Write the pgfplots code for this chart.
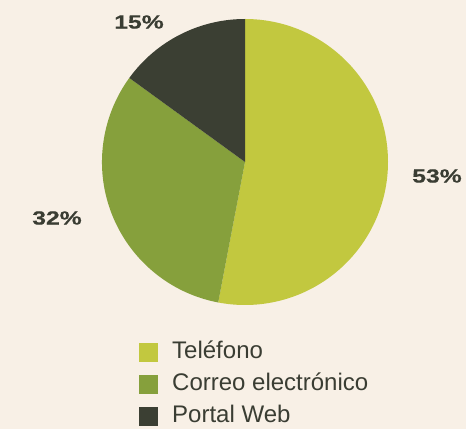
\documentclass[border=0pt]{standalone}
\usepackage{pgfplots}
\pgfplotsset{compat=1.18}
\usepackage{pgfplotstable}
\usepackage{fontspec}
\setmainfont{Liberation Sans}
\newfontfamily\labelfont[FakeStretch=1.3,FakeBold=0.6]{Liberation Sans Bold}
\definecolor{telefono}{HTML}{C2C83F}
\definecolor{correo}{HTML}{86A03C}
\definecolor{portal}{HTML}{3B3F33}
\definecolor{bg}{HTML}{F8F0E6}
\definecolor{txt}{HTML}{3A3D33}

\pgfplotstableread{
value col
53 telefono
32 correo
15 portal
}\piedata

\begin{document}
\begin{tikzpicture}
\fill[bg] (0,0) rectangle (466pt,429pt);
\begin{axis}[
  at={(0,0)}, anchor=south west,
  width=466pt, height=429pt, scale only axis,
  xmin=0, xmax=466, ymin=0, ymax=429,
  hide axis, clip=false,
  legend style={at={(axis cs:136,91)}, anchor=north west, draw=none, fill=none,
    font=\fontsize{24}{27}\selectfont\color{txt}, row sep=7pt,
    nodes={text height=16pt, text depth=5pt},
    /tikz/every odd column/.append style={column sep=12pt}},
  legend cell align=left,
  legend image code/.code={\fill[#1] (0pt,-9.5pt) rectangle (19pt,9.5pt);},
]
\xdef\angstart{90}
\pgfplotstablegetrowsof{\piedata}
\pgfmathtruncatemacro\nrows{\pgfplotsretval-1}
\foreach \i in {0,...,\nrows}{
  \pgfplotstablegetelem{\i}{value}\of\piedata \let\v\pgfplotsretval
  \pgfplotstablegetelem{\i}{col}\of\piedata \let\c\pgfplotsretval
  \pgfmathsetmacro\angend{\angstart-\v*3.6}
  \edef\temp{\noexpand\fill[\c] (axis cs:245,267) -- ++(\angstart:143pt) arc[start angle=\angstart, end angle=\angend, radius=143pt] -- cycle;}
  \temp
  \xdef\angstart{\angend}
}
\addlegendimage{fill=telefono, draw=none}
\addlegendentry{Teléfono}
\addlegendimage{fill=correo, draw=none}
\addlegendentry{Correo electrónico}
\addlegendimage{fill=portal, draw=none}
\addlegendentry{Portal Web}
\node[font=\labelfont\fontsize{19}{22}\selectfont, text=txt] at (axis cs:139,407) {15\%};
\node[font=\labelfont\fontsize{19}{22}\selectfont, text=txt] at (axis cs:437,253) {53\%};
\node[font=\labelfont\fontsize{19}{22}\selectfont, text=txt] at (axis cs:57,211) {32\%};
\end{axis}
\end{tikzpicture}
\end{document}
